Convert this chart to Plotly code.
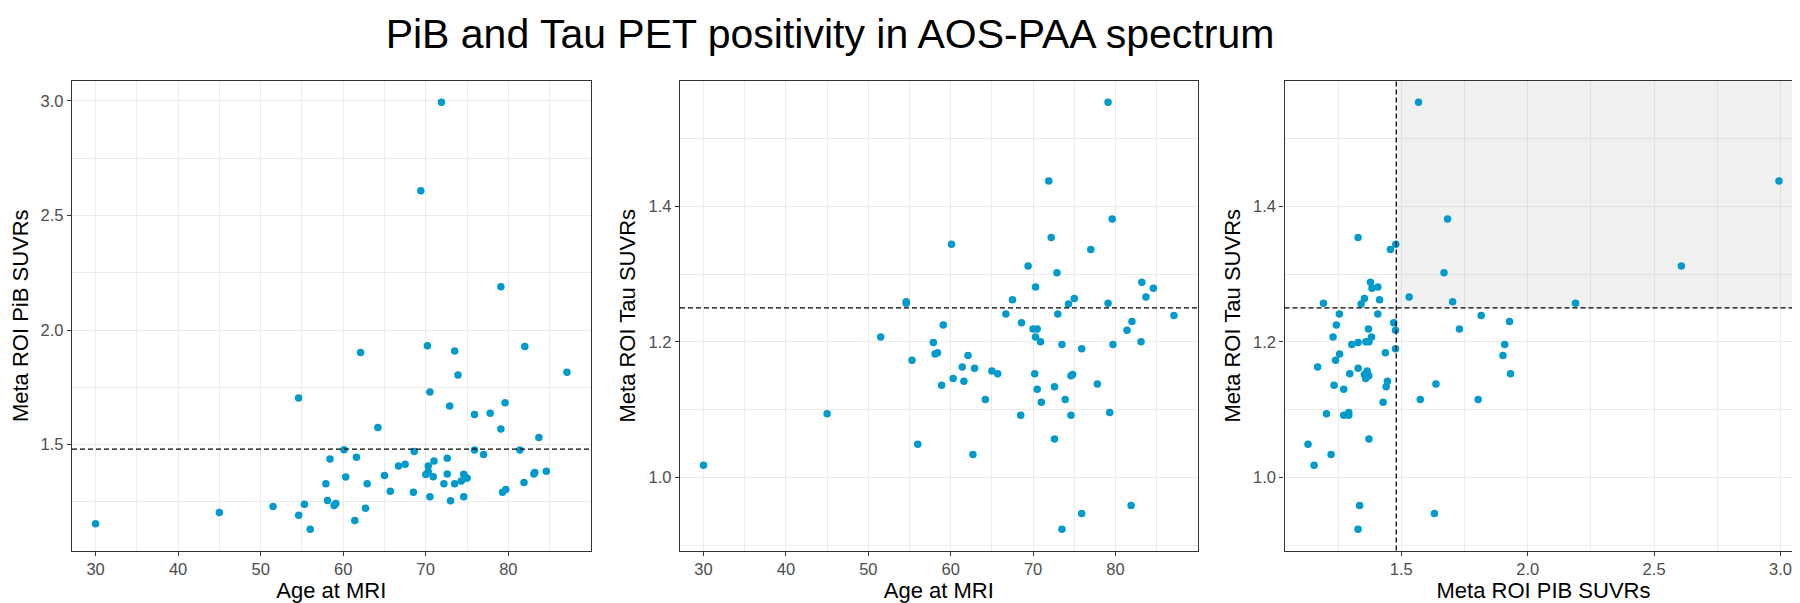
import plotly.graph_objects as go
from plotly.subplots import make_subplots

# one entry per subject: age at MRI, meta ROI PiB SUVR, meta ROI Tau SUVR
age = [30.0, 45.0, 51.5, 54.6, 54.6, 55.3, 56.0, 57.9, 58.1, 58.4,
       58.9, 59.1, 60.1, 60.3, 61.4, 61.6, 62.1, 62.7, 62.9, 64.2,
       65.0, 65.7, 66.7, 67.5, 68.5, 68.6, 69.4, 70.0, 70.2, 70.3,
       70.3, 70.5, 70.5, 70.9, 71.0, 71.9, 72.2, 72.6, 72.6, 72.9,
       73.0, 73.5, 73.5, 73.9, 74.3, 74.6, 74.6, 74.8, 75.0, 75.9,
       75.9, 77.0, 77.8, 79.1, 79.1, 79.3, 79.6, 79.7, 81.4, 81.9,
       82.0, 83.1, 83.2, 83.7, 84.6, 87.1]
pib = [1.155, 1.204, 1.230, 1.703, 1.192, 1.240, 1.131, 1.329, 1.256, 1.437,
       1.234, 1.243, 1.478, 1.359, 1.169, 1.445, 1.902, 1.222, 1.329, 1.575,
       1.365, 1.296, 1.407, 1.414, 1.292, 1.470, 2.608, 1.370, 1.932, 1.382,
       1.407, 1.730, 1.272, 1.360, 1.428, 2.994, 1.329, 1.440, 1.372, 1.669,
       1.255, 1.909, 1.329, 1.804, 1.341, 1.371, 1.272, 1.354, 1.354, 1.631,
       1.477, 1.457, 1.637, 1.568, 2.189, 1.292, 1.683, 1.304, 1.477, 1.335,
       1.928, 1.372, 1.378, 1.531, 1.384, 1.816]
tau = [1.018, 1.094, 1.207, 1.259, 1.257, 1.173, 1.049, 1.199, 1.182, 1.184,
       1.136, 1.225, 1.344, 1.146, 1.163, 1.142, 1.180, 1.034, 1.161, 1.115,
       1.157, 1.153, 1.241, 1.262, 1.092, 1.228, 1.312, 1.219, 1.153, 1.207,
       1.281, 1.219, 1.130, 1.200, 1.111, 1.437, 1.354, 1.134, 1.057, 1.302,
       1.241, 1.196, 0.924, 1.115, 1.256, 1.150, 1.092, 1.152, 1.264, 0.947,
       1.190, 1.336, 1.138, 1.553, 1.257, 1.096, 1.381, 1.196, 1.217, 0.959,
       1.230, 1.200, 1.288, 1.266, 1.279, 1.239]

pib_cut = 1.48
tau_cut = 1.25

FONT = "Liberation Sans, Arial, sans-serif"
POINT = "#009ACD"


def expand(v, mult=0.05):
    # ggplot's default continuous scale expansion
    lo, hi = min(v), max(v)
    pad = (hi - lo) * mult
    return [lo - pad, hi + pad]


age_rng, pib_rng, tau_rng = expand(age), expand(pib), expand(tau)

fig = make_subplots(rows=1, cols=3)

panels = [(age, pib), (age, tau), (pib, tau)]
for i, (xs, ys) in enumerate(panels, start=1):
    fig.add_trace(go.Scatter(x=xs, y=ys, mode="markers",
                             marker=dict(color=POINT, size=7.5, line_width=0),
                             showlegend=False), row=1, col=i)

# shaded double-positive quadrant
fig.add_shape(type="rect", x0=pib_cut, x1=pib_rng[1], y0=tau_cut, y1=tau_rng[1],
              xref="x3", yref="y3", fillcolor="rgba(190,190,190,0.22)",
              line_width=0, layer="between")

dash = dict(color="black", width=1.3, dash="5px,3px")
fig.add_hline(y=pib_cut, line=dash, row=1, col=1)
fig.add_hline(y=tau_cut, line=dash, row=1, col=2)
fig.add_hline(y=tau_cut, line=dash, row=1, col=3)
fig.add_vline(x=pib_cut, line=dash, row=1, col=3)

axis_style = dict(showline=True, mirror=True, linecolor="#333333", linewidth=1.3,
                  ticks="outside", ticklen=4, tickcolor="#333333", tickwidth=1.2,
                  showgrid=True, gridcolor="#EBEBEB", gridwidth=1.3, zeroline=False,
                  tickfont=dict(family=FONT, size=16.5, color="#4D4D4D"),
                  title_font=dict(family=FONT, size=22, color="black"))

def minor(step):
    return dict(dtick=step, tick0=0, showgrid=True, gridcolor="#EBEBEB", gridwidth=0.8)

x_dom = [[64 / 1800, 582.5 / 1800], [672 / 1800, 1189.5 / 1800], [1276.5 / 1800, 1794.5 / 1800]]
y_dom = [1 - 542.5 / 603, 1 - 73 / 603]

fig.update_layout(
    xaxis=dict(axis_style, domain=x_dom[0], range=age_rng, dtick=10, tick0=0, minor=minor(5),
               title=dict(text="Age at MRI", standoff=5)),
    yaxis=dict(axis_style, domain=y_dom, range=pib_rng, dtick=0.5, tick0=0, tickformat=".1f",
               minor=minor(0.25), title=dict(text="Meta ROI PiB SUVRs", standoff=6)),
    xaxis2=dict(axis_style, domain=x_dom[1], range=age_rng, dtick=10, tick0=0, minor=minor(5),
                title=dict(text="Age at MRI", standoff=5)),
    yaxis2=dict(axis_style, domain=y_dom, range=tau_rng, dtick=0.2, tick0=0, tickformat=".1f",
                minor=minor(0.1), title=dict(text="Meta ROI Tau SUVRs", standoff=6)),
    xaxis3=dict(axis_style, domain=x_dom[2], range=pib_rng, dtick=0.5, tick0=0, tickformat=".1f",
                minor=minor(0.25), title=dict(text="Meta ROI PIB SUVRs", standoff=5)),
    yaxis3=dict(axis_style, domain=y_dom, range=tau_rng, dtick=0.2, tick0=0, tickformat=".1f",
                minor=minor(0.1), title=dict(text="Meta ROI Tau SUVRs", standoff=6)),
)

fig.update_layout(
    width=1800, height=603,
    margin=dict(l=0, r=0, t=0, b=0),
    paper_bgcolor="white", plot_bgcolor="white",
    font=dict(family=FONT),
    title=dict(text="PiB and Tau PET positivity in AOS-PAA spectrum",
               x=822 / 1800, xanchor="center", y=1 - 26 / 603, yanchor="middle",
               font=dict(family=FONT, size=41, color="black")),
)

fig.write_html("out.html")
